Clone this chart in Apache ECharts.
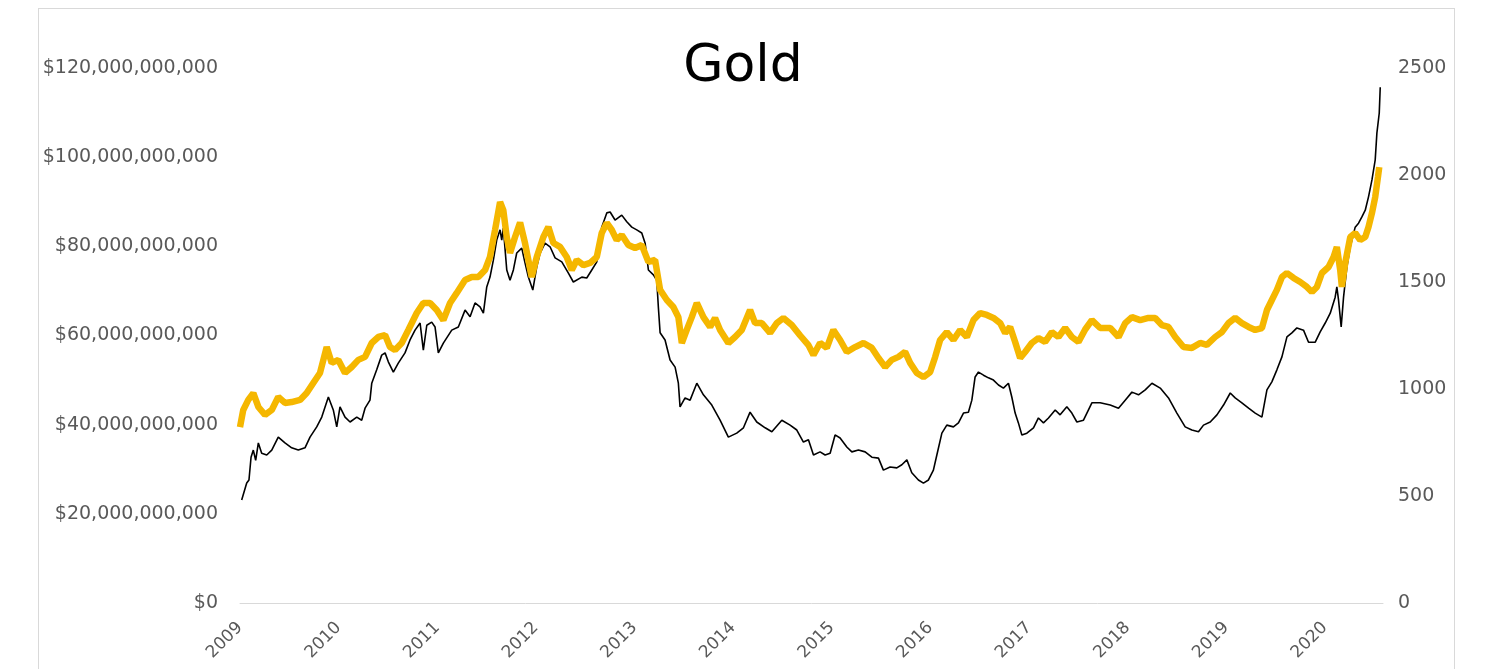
<!DOCTYPE html>
<html>
<head>
<meta charset="utf-8">
<title>Gold</title>
<script src="https://cdn.jsdelivr.net/npm/echarts@6/dist/echarts.min.js"></script>
<style>
  html, body { margin: 0; padding: 0; background: #fff; }
  .frame { position: absolute; left: 38px; top: 8px; width: 1415px; height: 700px; border: 1px solid #d9d9d9; }
  .echarts-box { position: absolute; left: 0; top: 0; width: 1486px; height: 669px; }
</style>
</head>
<body>
<div class="frame"></div>
<div class="echarts-box" id="chart"></div>
<script>
// fund assets, $ billions (left axis)
const assetYears = [
  2009.017, 2009.030, 2009.068, 2009.091, 2009.112, 2009.135, 2009.159, 2009.186, 2009.220, 2009.271,
  2009.322, 2009.388, 2009.456, 2009.524, 2009.591, 2009.659, 2009.710, 2009.778, 2009.829, 2009.896,
  2009.946, 2009.981, 2010.014, 2010.065, 2010.116, 2010.184, 2010.234, 2010.268, 2010.318, 2010.336,
  2010.386, 2010.437, 2010.471, 2010.504, 2010.555, 2010.605, 2010.673, 2010.724, 2010.775, 2010.826,
  2010.859, 2010.894, 2010.944, 2010.978, 2011.011, 2011.062, 2011.147, 2011.214, 2011.282, 2011.333,
  2011.383, 2011.434, 2011.468, 2011.502, 2011.535, 2011.569, 2011.603, 2011.637, 2011.654, 2011.670,
  2011.705, 2011.738, 2011.772, 2011.806, 2011.857, 2011.890, 2011.924, 2011.969, 2012.009, 2012.043,
  2012.093, 2012.144, 2012.195, 2012.263, 2012.330, 2012.380, 2012.466, 2012.516, 2012.567, 2012.618,
  2012.668, 2012.719, 2012.753, 2012.803, 2012.871, 2012.922, 2012.973, 2013.023, 2013.074, 2013.108,
  2013.141, 2013.192, 2013.226, 2013.242, 2013.260, 2013.310, 2013.361, 2013.412, 2013.445, 2013.462,
  2013.513, 2013.564, 2013.632, 2013.699, 2013.784, 2013.868, 2013.952, 2014.037, 2014.105, 2014.172,
  2014.240, 2014.325, 2014.393, 2014.494, 2014.578, 2014.646, 2014.713, 2014.764, 2014.815, 2014.882,
  2014.933, 2014.984, 2015.034, 2015.085, 2015.153, 2015.204, 2015.271, 2015.339, 2015.407, 2015.474,
  2015.524, 2015.592, 2015.660, 2015.711, 2015.762, 2015.812, 2015.879, 2015.930, 2015.981, 2016.031,
  2016.066, 2016.117, 2016.167, 2016.234, 2016.285, 2016.336, 2016.386, 2016.421, 2016.454, 2016.488,
  2016.539, 2016.589, 2016.640, 2016.691, 2016.741, 2016.792, 2016.826, 2016.860, 2016.893, 2016.928,
  2016.979, 2017.046, 2017.096, 2017.147, 2017.198, 2017.266, 2017.316, 2017.384, 2017.435, 2017.486,
  2017.553, 2017.638, 2017.722, 2017.824, 2017.908, 2017.976, 2018.044, 2018.111, 2018.179, 2018.247,
  2018.331, 2018.415, 2018.500, 2018.584, 2018.652, 2018.719, 2018.770, 2018.838, 2018.906, 2018.973,
  2019.041, 2019.091, 2019.159, 2019.227, 2019.294, 2019.362, 2019.413, 2019.463, 2019.514, 2019.565,
  2019.616, 2019.666, 2019.717, 2019.784, 2019.835, 2019.903, 2019.953, 2020.004, 2020.055, 2020.105,
  2020.122, 2020.139, 2020.166, 2020.190, 2020.224, 2020.258, 2020.308, 2020.342, 2020.376, 2020.410,
  2020.443, 2020.478, 2020.511, 2020.528, 2020.552, 2020.562
]
const assetValues = [
  23.1, 22.7, 26.9, 27.6, 32.7, 34.3, 32.0, 35.9, 33.6, 33.2,
  34.3, 37.2, 35.9, 34.8, 34.3, 34.8, 37.2, 39.5, 41.7, 46.2,
  43.3, 39.5, 44.0, 41.7, 40.6, 41.7, 41.0, 43.7, 45.5, 49.3,
  52.3, 55.6, 56.1, 54.1, 51.8, 53.8, 56.1, 59.0, 61.2, 62.8,
  56.7, 62.3, 63.0, 61.9, 56.1, 58.3, 61.2, 61.9, 65.7, 64.2,
  67.3, 66.4, 65.0, 70.9, 73.1, 76.9, 81.4, 83.7, 81.4, 84.1,
  74.7, 72.4, 74.7, 78.5, 79.6, 76.3, 73.1, 70.2, 75.4, 78.5,
  80.7, 79.9, 77.4, 76.5, 74.0, 72.0, 73.1, 72.9, 74.7, 76.5,
  84.3, 87.5, 87.7, 85.9, 87.0, 85.5, 84.3, 83.7, 83.0, 80.7,
  74.7, 73.6, 72.4, 66.4, 60.6, 59.0, 54.5, 52.9, 49.3, 44.0,
  46.0, 45.5, 49.3, 46.7, 44.4, 41.0, 37.2, 38.1, 39.3, 42.8,
  40.6, 39.3, 38.4, 41.0, 39.9, 38.8, 36.1, 36.6, 33.2, 33.9,
  33.2, 33.6, 37.7, 37.0, 35.0, 33.9, 34.3, 33.9, 32.7, 32.5,
  29.8, 30.5, 30.3, 31.0, 32.1, 29.2, 27.6, 26.9, 27.6, 29.8,
  33.2, 38.1, 39.9, 39.5, 40.4, 42.6, 42.8, 45.5, 50.7, 51.8,
  51.1, 50.5, 50.0, 48.9, 48.2, 49.3, 46.2, 42.6, 40.4, 37.7,
  38.1, 39.3, 41.5, 40.4, 41.5, 43.3, 42.2, 44.0, 42.6, 40.6,
  41.0, 44.9, 44.9, 44.4, 43.7, 45.5, 47.3, 46.7, 47.8, 49.3,
  48.2, 46.0, 42.6, 39.5, 38.8, 38.4, 39.9, 40.6, 42.2, 44.4,
  47.1, 46.0, 44.9, 43.7, 42.6, 41.7, 47.8, 49.6, 52.3, 55.2,
  59.7, 60.6, 61.7, 61.2, 58.5, 58.5, 60.8, 62.8, 65.0, 68.6,
  70.9, 68.0, 61.9, 68.6, 75.4, 79.9, 84.3, 85.2, 86.6, 88.1,
  91.1, 94.9, 99.4, 105.4, 109.9, 115.7
]

// gold price, $ per ounce (right axis)
const goldYears = [
  2009.000, 2009.033, 2009.084, 2009.135, 2009.186, 2009.254, 2009.322, 2009.388, 2009.456, 2009.524,
  2009.609, 2009.676, 2009.743, 2009.811, 2009.879, 2009.930, 2009.997, 2010.065, 2010.133, 2010.200,
  2010.268, 2010.336, 2010.403, 2010.471, 2010.521, 2010.572, 2010.640, 2010.707, 2010.792, 2010.859,
  2010.927, 2010.995, 2011.062, 2011.130, 2011.198, 2011.282, 2011.350, 2011.417, 2011.485, 2011.535,
  2011.586, 2011.637, 2011.670, 2011.705, 2011.738, 2011.789, 2011.840, 2011.890, 2011.958, 2012.009,
  2012.076, 2012.127, 2012.178, 2012.245, 2012.313, 2012.364, 2012.415, 2012.482, 2012.550, 2012.618,
  2012.668, 2012.719, 2012.770, 2012.820, 2012.871, 2012.938, 2013.006, 2013.074, 2013.141, 2013.209,
  2013.260, 2013.328, 2013.394, 2013.445, 2013.480, 2013.530, 2013.581, 2013.632, 2013.699, 2013.767,
  2013.817, 2013.868, 2013.952, 2014.020, 2014.088, 2014.172, 2014.223, 2014.291, 2014.375, 2014.443,
  2014.510, 2014.595, 2014.680, 2014.764, 2014.815, 2014.882, 2014.950, 2015.017, 2015.085, 2015.153,
  2015.237, 2015.322, 2015.407, 2015.474, 2015.542, 2015.609, 2015.677, 2015.744, 2015.795, 2015.863,
  2015.930, 2015.998, 2016.049, 2016.099, 2016.167, 2016.234, 2016.302, 2016.370, 2016.437, 2016.505,
  2016.573, 2016.640, 2016.708, 2016.759, 2016.809, 2016.860, 2016.911, 2016.961, 2017.029, 2017.096,
  2017.164, 2017.232, 2017.299, 2017.367, 2017.435, 2017.502, 2017.570, 2017.638, 2017.722, 2017.824,
  2017.908, 2017.976, 2018.044, 2018.128, 2018.212, 2018.280, 2018.347, 2018.415, 2018.483, 2018.567,
  2018.652, 2018.736, 2018.804, 2018.888, 2018.956, 2019.023, 2019.091, 2019.159, 2019.227, 2019.294,
  2019.362, 2019.413, 2019.463, 2019.514, 2019.565, 2019.616, 2019.683, 2019.751, 2019.818, 2019.869,
  2019.920, 2019.971, 2020.038, 2020.089, 2020.122, 2020.156, 2020.173, 2020.207, 2020.258, 2020.308,
  2020.359, 2020.410, 2020.443, 2020.478, 2020.511, 2020.539, 2020.552
]
const goldValues = [
  822, 902, 949, 981, 916, 879, 902, 963, 935, 939,
  949, 981, 1028, 1075, 1196, 1122, 1136, 1075, 1103, 1136,
  1150, 1215, 1243, 1252, 1196, 1182, 1215, 1276, 1355, 1402,
  1402, 1369, 1322, 1402, 1449, 1509, 1523, 1523, 1556, 1617,
  1743, 1874, 1836, 1710, 1636, 1710, 1778, 1682, 1523, 1617,
  1710, 1757, 1682, 1664, 1617, 1556, 1603, 1579, 1589, 1617,
  1729, 1776, 1743, 1696, 1720, 1673, 1659, 1673, 1594, 1603,
  1463, 1416, 1383, 1336, 1215, 1276, 1336, 1402, 1336, 1290,
  1332, 1276, 1215, 1243, 1276, 1369, 1308, 1308, 1262, 1308,
  1332, 1299, 1250, 1205, 1159, 1215, 1192, 1276, 1229, 1173,
  1196, 1215, 1192, 1145, 1103, 1136, 1150, 1173, 1122, 1075,
  1056, 1079, 1150, 1229, 1266, 1229, 1276, 1243, 1322, 1355,
  1346, 1332, 1308, 1262, 1290, 1220, 1145, 1173, 1215, 1238,
  1220, 1266, 1243, 1285, 1243, 1220, 1278, 1322, 1285, 1285,
  1243, 1308, 1336, 1322, 1332, 1332, 1299, 1290, 1243, 1196,
  1192, 1215, 1206, 1243, 1266, 1308, 1332, 1308, 1290, 1276,
  1285, 1369, 1416, 1463, 1523, 1542, 1519, 1500, 1477, 1453,
  1477, 1542, 1570, 1617, 1664, 1556, 1477, 1589, 1710, 1729,
  1696, 1710, 1757, 1822, 1897, 1991, 2037
]

const leftMax = 120
const leftStep = 20
const rightMax = 2500
const rightStep = 500
const firstYear = 2009
const lastYear = 2020.59

const font = 'DejaVu Sans'
const labelColor = '#595959'

function pairs(xs, ys) {
  return xs.map((x, i) => [x, ys[i]])
}

const chart = echarts.init(document.getElementById('chart'))
const options = {
  animation: false,
  title: {
    text: 'Gold',
    left: 'center',
    top: 36,
    textStyle: {
      fontFamily: font,
      fontSize: 52,
      fontWeight: 'normal',
      color: '#000'
    }
  },
  grid: {
    left: 240,
    right: 103,
    top: 68,
    bottom: 66,
    containLabel: false
  },
  xAxis: {
    type: 'value',
    min: firstYear,
    max: lastYear,
    interval: 1,
    splitLine: { show: false },
    axisTick: { show: false },
    axisLine: { lineStyle: { color: '#d9d9d9', width: 1 } },
    axisLabel: {
      rotate: 45,
      margin: 22,
      color: labelColor,
      fontFamily: font,
      fontSize: 17,
      formatter: v => (Number.isInteger(v) ? String(v) : '')
    }
  },
  yAxis: [
    {
      type: 'value',
      position: 'left',
      min: 0,
      max: leftMax,
      interval: leftStep,
      splitLine: { show: false },
      axisLine: { show: false },
      axisTick: { show: false },
      axisLabel: {
        margin: 22,
        color: labelColor,
        fontFamily: font,
        fontSize: 19,
        formatter: v => '$' + (v * 1e9).toLocaleString('en-US')
      }
    },
    {
      type: 'value',
      position: 'right',
      min: 0,
      max: rightMax,
      interval: rightStep,
      splitLine: { show: false },
      axisLine: { show: false },
      axisTick: { show: false },
      axisLabel: {
        margin: 15,
        color: labelColor,
        fontFamily: font,
        fontSize: 19,
        formatter: v => String(v)
      }
    }
  ],
  series: [
    {
      name: 'Assets',
      type: 'line',
      yAxisIndex: 0,
      data: pairs(assetYears, assetValues),
      showSymbol: false,
      lineStyle: { color: '#000', width: 1.6 }
    },
    {
      name: 'Gold price',
      type: 'line',
      yAxisIndex: 1,
      data: pairs(goldYears, goldValues),
      showSymbol: false,
      lineStyle: { color: '#F5B700', width: 6.5 }
    }
  ]
}
chart.setOption(options)
</script>
</body>
</html>
